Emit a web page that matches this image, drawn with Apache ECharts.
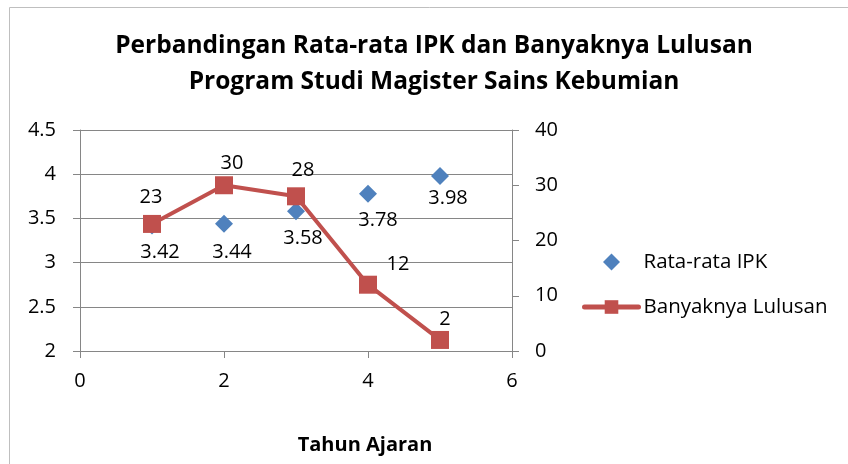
<!DOCTYPE html>
<html>
<head>
<meta charset="utf-8">
<script src="https://cdn.jsdelivr.net/npm/echarts@6/dist/echarts.min.js"></script>
<style>
  html, body { margin: 0; padding: 0; background: #fff; }
  #chart { width: 848px; height: 464px; }
</style>
</head>
<body>
<div id="chart"></div>
<script>
// data
const tahun = [1, 2, 3, 4, 5];
const rataIpk = [3.42, 3.44, 3.58, 3.78, 3.98];
const lulusan = [23, 30, 28, 12, 2];
const xTicks = { min: 0, max: 6, interval: 2 };
const ipkTicks = { min: 2, max: 4.5, interval: 0.5 };
const lulusanTicks = { min: 0, max: 40, interval: 10 };

// label nudges (px), as placed in the original
const ipkLabelShift = [[8, 27], [8, 29], [7, 27], [10, 27], [8, 22]];
const lulusanLabelShift = [[-1, -27], [8, -22], [7, -26], [30, -20], [5, -21]];

const font = 'Open Sans';
const gray = '#868686';

const chart = echarts.init(document.getElementById('chart'));

const option = {
  backgroundColor: '#fff',
  animation: false,
  graphic: [{
    type: 'rect',
    shape: { x: 9.5, y: 7.5, width: 900, height: 500 },
    style: { fill: null, stroke: '#bfbfbf', lineWidth: 1 },
    silent: true
  }],
  title: [
    {
      text: 'Perbandingan Rata-rata IPK dan Banyaknya Lulusan\nProgram Studi Magister Sains Kebumian',
      left: 434,
      top: 28,
      padding: 0,
      textAlign: 'center',
      textStyle: { fontFamily: font, fontWeight: 'bold', fontSize: 24.5, lineHeight: 36, color: '#000' }
    },
    {
      text: 'Tahun Ajaran',
      left: 365,
      top: 435,
      padding: 0,
      textAlign: 'center',
      textStyle: { fontFamily: font, fontWeight: 'bold', fontSize: 20, color: '#000' }
    }
  ],
  legend: {
    orient: 'vertical',
    left: 582,
    top: 251,
    padding: 0,
    itemWidth: 54,
    itemHeight: 17,
    itemGap: 23,
    itemStyle: { borderWidth: 0 },
    symbolKeepAspect: true,
    textStyle: { fontFamily: font, fontSize: 20.5, color: '#000', lineHeight: 22 },
    data: [
      { name: 'Rata-rata IPK', icon: 'path://M0,-1L1,0L0,1L-1,0Z' },
      { name: 'Banyaknya Lulusan', lineStyle: { width: 5, cap: 'round' } }
    ]
  },
  grid: { left: 80, right: 336, top: 130, bottom: 113 },
  xAxis: {
    type: 'value',
    min: xTicks.min, max: xTicks.max, interval: xTicks.interval,
    axisLine: { show: true, lineStyle: { color: gray, width: 1 } },
    axisTick: { show: true, inside: false, length: 7, lineStyle: { color: gray } },
    splitLine: { show: false },
    axisLabel: { margin: 20, fontFamily: font, fontSize: 20, color: '#000' }
  },
  yAxis: [
    {
      type: 'value',
      position: 'left',
      min: ipkTicks.min, max: ipkTicks.max, interval: ipkTicks.interval,
      axisLine: { show: true, lineStyle: { color: gray, width: 1 } },
      axisTick: { show: true, inside: false, length: 7, lineStyle: { color: gray } },
      splitLine: { show: true, lineStyle: { color: gray, width: 1 } },
      axisLabel: { margin: 24, fontFamily: font, fontSize: 20, color: '#000' }
    },
    {
      type: 'value',
      position: 'right',
      min: lulusanTicks.min, max: lulusanTicks.max, interval: lulusanTicks.interval,
      axisLine: { show: true, lineStyle: { color: gray, width: 1 } },
      axisTick: { show: true, inside: false, length: 7, lineStyle: { color: gray } },
      splitLine: { show: false },
      axisLabel: { margin: 23, fontFamily: font, fontSize: 20, color: '#000' }
    }
  ],
  series: [
    {
      name: 'Rata-rata IPK',
      type: 'scatter',
      yAxisIndex: 0,
      symbol: 'diamond',
      symbolSize: [18, 18],
      itemStyle: { color: '#4F81BD', opacity: 1 },
      data: tahun.map((t, i) => ({
        value: [t, rataIpk[i]],
        label: { offset: ipkLabelShift[i] }
      })),
      label: {
        show: true, position: 'inside',
        fontFamily: font, fontSize: 20, color: '#000', opacity: 1,
        formatter: p => p.value[1].toFixed(2)
      },
      z: 2
    },
    {
      name: 'Banyaknya Lulusan',
      type: 'line',
      yAxisIndex: 1,
      symbol: 'rect',
      symbolSize: 18,
      showAllSymbol: true,
      lineStyle: { color: '#C0504D', width: 4 },
      itemStyle: { color: '#C0504D' },
      data: tahun.map((t, i) => ({
        value: [t, lulusan[i]],
        label: { offset: lulusanLabelShift[i] }
      })),
      label: {
        show: true, position: 'inside',
        fontFamily: font, fontSize: 20, color: '#000',
        formatter: p => String(p.value[1])
      },
      z: 3
    }
  ]
};

chart.setOption(option);
</script>
</body>
</html>
